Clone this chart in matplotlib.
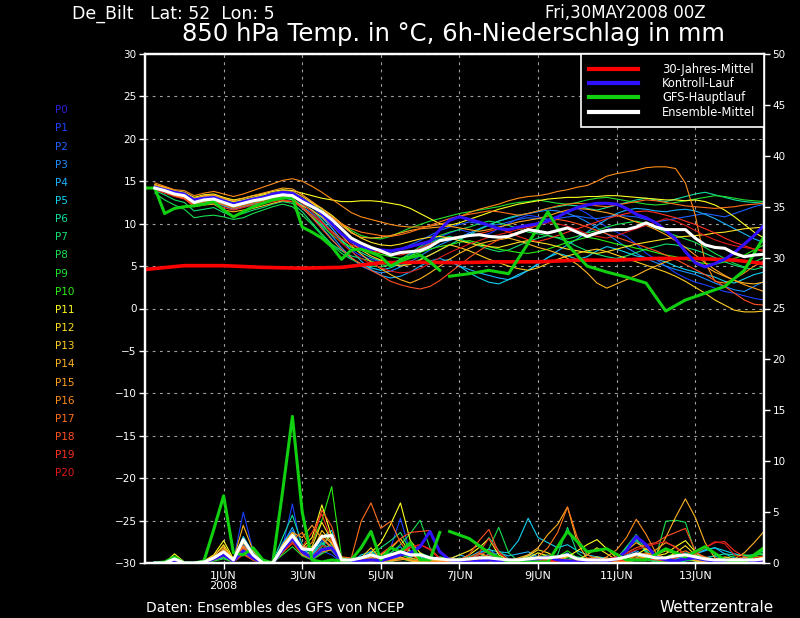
import matplotlib
matplotlib.use('Agg')
import matplotlib.pyplot as plt
from matplotlib.lines import Line2D

# ---- time axes (hours after 30MAY2008 00Z) ----
ens_hours = list(range(6, 379, 6))          # ensemble, 6h steps
gfs_hours_hi = list(range(0, 181, 6))       # GFS high-res temp
gfs_precip_hours_hi = list(range(6, 181, 6))
gfs_hours_lo = list(range(186, 379, 12))    # GFS low-res, 12h steps
clim_hours = [0, 24, 48, 72, 96, 120, 144, 168, 192, 216, 240, 264, 288, 312, 336, 360, 378]

x_ticks = [48, 96, 144, 192, 240, 288, 336]
x_labels = ['1JUN\n2008', '3JUN', '5JUN', '7JUN', '9JUN', '11JUN', '13JUN']
member_names = ['P%d' % k for k in range(21)]

# ---- 850 hPa temperature ----
clim_temp = [4.6, 5.05, 5.05, 4.85, 4.75, 4.85, 5.4, 5.45, 5.4, 5.5, 5.5, 5.7, 5.7, 5.9, 5.9, 5.7, 5.3]

mean_temp = [14.2, 13.9, 13.5, 13.3, 12.5, 12.8, 12.9, 12.5, 12.1, 12.4,
             12.7, 12.9, 13.2, 13.4, 13.3, 12.6, 12.0, 11.4, 10.5, 9.4,
             8.3, 7.7, 7.2, 6.8, 6.3, 6.6, 6.7, 6.8, 7.3, 8.0,
             8.2, 8.4, 8.6, 8.7, 8.5, 8.4, 8.5, 8.9, 9.3, 9.1,
             8.9, 9.2, 9.5, 9.0, 8.5, 8.9, 9.2, 9.3, 9.3, 9.6,
             10.1, 9.6, 9.3, 9.3, 9.3, 8.3, 7.5, 7.2, 7.1, 6.5,
             6.1, 6.3, 6.4]

ctrl_temp = [14.3, 14.0, 13.7, 13.5, 12.8, 13.0, 13.1, 12.7, 12.3, 12.6,
             12.9, 13.1, 13.5, 13.7, 13.6, 12.9, 12.1, 11.2, 10.0, 8.8,
             7.9, 7.3, 7.0, 6.9, 6.8, 7.0, 7.3, 7.6, 7.9, 9.3,
             10.4, 10.8, 10.5, 10.2, 9.8, 9.4, 9.3, 9.6, 9.8, 10.0,
             10.3, 10.8, 11.4, 11.9, 12.2, 12.4, 12.4, 12.3, 11.8, 11.1,
             10.7, 10.1, 9.2, 8.2, 6.7, 5.4, 4.9, 5.3, 5.8, 6.6,
             7.6, 8.6, 9.8]

gfs_temp_hi = [14.2, 14.2, 11.2, 11.8, 12.0, 12.1, 12.3, 12.6, 11.6, 10.8,
               11.4, 12.0, 12.4, 12.8, 13.0, 13.1, 9.6, 9.0, 8.3, 7.3,
               5.8, 6.9, 7.0, 6.6, 6.1, 5.0, 5.6, 6.0, 6.3, 5.5, 4.5]
gfs_temp_lo = [3.8, 4.1, 4.5, 4.1, 7.7, 11.4, 7.5, 5.0, 4.3, 3.7, 3.0, -0.3, 1.0, 1.8, 2.6, 4.5, 8.5]

ens_temp = [
    # P1
    [14.4, 14.0, 13.7, 13.6, 12.9, 13.1, 13.2, 12.8, 12.5, 12.8,
     13.0, 13.2, 13.5, 13.7, 13.5, 12.9, 12.2, 11.0, 9.5, 8.0,
     6.9, 6.2, 5.8, 5.5, 5.3, 5.8, 6.4, 7.1, 7.8, 8.4,
     8.9, 9.3, 9.0, 8.6, 8.8, 9.4, 10.0, 10.6, 11.0, 10.8,
     10.5, 10.9, 11.4, 11.8, 11.2, 10.4, 9.6, 9.0, 8.5, 7.6,
     6.5, 5.8, 5.0, 4.2, 3.6, 3.1, 2.8, 2.4, 2.0, 1.8,
     1.5, 1.2, 1.0],
    # P2
    [14.3, 14.1, 13.6, 13.4, 12.7, 13.0, 13.1, 12.6, 12.2, 12.6,
     12.9, 13.1, 13.4, 13.6, 13.5, 12.7, 11.9, 11.0, 10.0, 8.8,
     7.8, 7.3, 7.0, 6.8, 6.6, 7.0, 7.5, 8.0, 8.6, 9.2,
     9.6, 9.9, 10.2, 10.0, 9.8, 9.9, 10.2, 10.5, 10.7, 10.6,
     10.5, 10.6, 10.8, 10.9, 10.7, 10.6, 10.8, 11.0, 10.9, 10.8,
     10.5, 10.2, 10.4, 10.6, 10.8, 11.0, 11.2, 11.0, 10.8, 11.2,
     11.6, 12.0, 12.3],
    # P3
    [14.1, 13.8, 13.4, 13.2, 12.4, 12.6, 12.8, 12.3, 11.9, 12.2,
     12.5, 12.8, 13.1, 13.2, 13.0, 12.0, 11.2, 10.0, 8.6, 7.2,
     6.0, 5.0, 4.5, 4.2, 4.4, 4.9, 5.5, 6.2, 6.9, 7.5,
     8.0, 8.4, 8.9, 9.4, 9.9, 10.3, 10.6, 10.9, 11.2, 11.4,
     11.6, 11.5, 11.2, 10.8, 10.2, 9.5, 8.8, 8.0, 7.2, 6.5,
     5.9, 5.4, 5.0, 4.6, 4.3, 4.0, 3.5, 3.0, 2.6, 2.2,
     2.0, 2.6, 3.2],
    # P4
    [14.0, 13.7, 13.3, 13.0, 12.2, 12.5, 12.6, 12.1, 11.7, 12.0,
     12.3, 12.5, 12.8, 13.0, 12.9, 12.2, 11.5, 10.7, 9.5, 8.1,
     6.8, 5.6, 4.6, 3.9, 3.6, 3.8, 4.3, 5.0, 5.6, 5.9,
     5.5, 5.0, 4.6, 4.2, 3.9, 3.6, 3.4, 3.8, 4.5, 5.3,
     6.0, 6.8, 7.5, 8.2, 9.0, 9.8, 10.5, 11.2, 11.6, 11.8,
     11.7, 11.5, 11.4, 11.6, 11.7, 11.5, 11.1, 10.6, 10.0, 9.4,
     8.8, 8.2, 7.8],
    # P5
    [14.2, 13.9, 13.5, 13.3, 12.6, 12.9, 13.0, 12.5, 12.0, 12.3,
     12.6, 12.8, 13.0, 13.1, 12.8, 11.8, 10.8, 9.6, 8.2, 6.9,
     5.9, 5.2, 4.8, 4.5, 4.8, 5.3, 5.6, 5.4, 5.2, 5.5,
     5.8, 5.0, 4.2, 3.6, 3.1, 2.9, 3.4, 4.0, 4.5, 5.2,
     6.0, 6.5, 6.2, 5.8, 6.1, 6.8, 7.3, 7.0, 6.6, 6.2,
     6.0, 5.8, 5.5, 5.0, 4.6, 4.3, 4.0, 3.7, 3.2, 3.0,
     3.5, 4.0, 4.3],
    # P6
    [14.3, 14.0, 13.6, 13.4, 12.8, 13.0, 13.1, 12.6, 12.3, 12.5,
     12.8, 13.0, 13.3, 13.5, 13.3, 12.4, 11.6, 10.4, 9.1, 8.0,
     7.2, 6.6, 6.0, 5.6, 5.3, 5.1, 5.3, 5.8, 6.3, 6.9,
     7.5, 8.1, 8.7, 9.3, 9.8, 10.3, 10.7, 11.0, 11.2, 11.5,
     11.8, 12.0, 12.2, 12.1, 11.8, 11.6, 11.9, 12.2, 12.5, 12.8,
     13.0, 12.8, 12.6, 12.9, 13.2, 13.5, 13.7, 13.4, 13.1, 12.8,
     12.6, 12.5, 12.4],
    # P7
    [13.9, 13.4, 12.8, 12.5, 11.5, 11.7, 11.9, 11.3, 10.9, 11.2,
     11.6, 11.9, 12.3, 12.6, 12.4, 11.4, 10.1, 8.8, 7.6, 6.8,
     6.2, 5.9, 5.6, 5.2, 5.0, 5.4, 6.2, 7.0, 7.7, 8.2,
     8.5, 8.2, 7.8, 7.4, 7.0, 6.7, 6.9, 7.4, 7.9, 8.3,
     8.6, 8.3, 7.9, 7.3, 6.8, 6.4, 6.1, 5.9, 6.2, 6.6,
     7.0, 7.3, 7.6, 7.5, 7.2, 6.9, 6.5, 6.0, 5.5, 5.1,
     4.8, 4.6, 4.9],
    # P8
    [13.6, 12.8, 12.2, 11.7, 10.7, 10.9, 11.0, 10.8, 10.5, 10.7,
     11.2, 11.6, 12.0, 12.3, 12.0, 11.0, 9.9, 8.6, 7.5, 6.5,
     5.8, 5.3, 5.0, 4.9, 5.2, 5.8, 6.5, 7.3, 8.0, 8.6,
     9.0, 9.3, 9.6, 10.0, 10.3, 10.1, 9.8, 9.4, 9.0, 8.8,
     8.6, 8.4, 8.2, 8.5, 8.9, 9.2, 9.6, 9.9, 10.1, 10.3,
     10.0, 9.5, 9.0, 8.6, 8.2, 7.8, 7.2, 6.5, 5.9, 5.3,
     4.9, 5.5, 6.0],
    # P9
    [14.3, 14.0, 13.7, 13.5, 12.8, 13.2, 13.3, 12.9, 12.6, 12.8,
     13.1, 13.3, 13.6, 13.7, 13.6, 13.0, 12.4, 11.7, 10.9, 10.0,
     9.2, 8.6, 8.3, 8.2, 8.5, 9.0, 9.5, 9.9, 10.3, 10.6,
     10.9, 11.2, 11.4, 11.6, 11.8, 12.0, 12.3, 12.5, 12.6, 12.8,
     12.6, 12.4, 12.3, 12.5, 12.8, 13.0, 13.1, 12.9, 12.7, 12.5,
     12.3, 12.2, 12.3, 12.5, 12.7, 12.9, 13.1, 13.3, 13.2, 13.0,
     12.8, 12.7, 12.6],
    # P10
    [14.2, 13.8, 13.4, 13.2, 12.3, 12.6, 12.7, 12.2, 11.9, 12.1,
     12.4, 12.7, 13.0, 13.2, 13.0, 12.0, 10.9, 9.8, 8.7, 7.8,
     7.2, 6.9, 6.7, 6.4, 6.1, 5.9, 6.2, 6.6, 7.0, 7.3,
     7.5, 7.8, 8.0, 7.7, 7.3, 7.0, 6.8, 6.6, 6.5, 6.7,
     7.0, 7.4, 7.8, 8.1, 8.4, 8.2, 7.9, 7.6, 7.4, 7.1,
     6.9, 6.6, 6.3, 6.1, 5.8, 5.5, 5.3, 5.2, 5.5, 5.9,
     6.3, 6.9, 7.5],
    # P11
    [14.6, 14.3, 13.9, 13.7, 13.1, 13.4, 13.5, 13.1, 12.8, 13.0,
     13.3, 13.5, 13.8, 14.0, 13.9, 13.6, 13.3, 13.0, 12.8, 12.6,
     12.6, 12.7, 12.7, 12.6, 12.4, 12.2, 11.8, 11.2, 10.6, 10.0,
     9.8, 10.1, 10.5, 10.9, 11.3, 11.7, 12.0, 12.3, 12.5, 12.7,
     12.9, 13.0, 13.1, 13.1, 13.2, 13.2, 13.3, 13.3, 13.2, 13.1,
     13.0, 12.9, 12.8, 12.8, 12.7, 12.8, 12.6, 12.2, 11.6, 10.8,
     9.9, 9.0, 8.3],
    # P12
    [14.4, 14.1, 13.7, 13.5, 12.8, 13.1, 13.2, 12.7, 12.3, 12.6,
     12.9, 13.1, 13.4, 13.6, 13.5, 12.9, 12.4, 11.8, 11.0, 10.0,
     9.0, 8.3, 7.8, 7.5, 7.4, 7.6, 7.9, 8.2, 8.4, 8.5,
     8.3, 8.0, 7.7, 7.5, 7.3, 7.2, 7.5, 7.8, 8.0, 7.8,
     7.6, 7.3, 7.0, 6.8, 6.6, 6.5, 6.7, 7.0, 7.3, 7.6,
     7.8, 8.0, 8.2, 8.4, 8.5, 8.6, 8.7, 8.9, 9.0, 9.2,
     9.4, 9.5, 9.6],
    # P13
    [14.5, 14.2, 13.8, 13.6, 13.0, 13.2, 13.3, 12.9, 12.6, 12.8,
     13.1, 13.4, 13.6, 13.9, 13.8, 13.2, 12.5, 11.3, 10.0, 8.8,
     7.8, 6.9, 6.2, 5.7, 5.3, 5.0, 5.2, 5.7, 6.3, 6.9,
     7.5, 7.2, 6.8, 6.3, 5.8, 5.4, 5.0, 4.7, 4.5, 4.8,
     5.3, 5.8, 6.2, 6.5, 6.8, 7.0, 6.7, 6.3, 5.9, 5.5,
     5.1, 4.7, 4.3, 3.8, 3.2, 2.5, 1.8, 1.0, 0.4, -0.2,
     -0.4, -0.4, -0.3],
    # P14
    [14.3, 13.9, 13.3, 13.0, 12.0, 12.2, 12.3, 11.6, 11.4, 11.6,
     11.8, 12.1, 12.4, 12.7, 12.6, 12.1, 11.6, 10.8, 9.8, 8.6,
     7.4, 6.4, 5.5, 4.7, 4.0, 3.4, 3.0, 3.5, 4.2, 5.0,
     5.8, 6.5, 7.1, 7.6, 7.9, 8.1, 8.3, 8.0, 7.6, 7.2,
     6.9, 6.5, 5.9, 5.2, 4.2, 3.0, 2.4, 2.9, 3.4, 3.9,
     4.5, 5.0, 5.5, 5.9, 6.0, 5.6, 5.0, 4.3, 3.8, 3.3,
     3.0, 2.9, 3.1],
    # P15
    [14.6, 14.2, 13.8, 13.6, 12.9, 13.3, 13.4, 13.0, 12.7, 13.0,
     13.3, 13.6, 13.9, 14.2, 14.1, 13.4, 12.6, 11.8, 10.8, 9.8,
     8.9, 8.4, 8.3, 8.4, 8.6, 8.9, 9.2, 9.4, 9.5, 9.6,
     9.7, 9.5, 9.3, 9.1, 9.3, 9.6, 9.9, 10.2, 10.4, 10.6,
     10.9, 11.3, 11.6, 11.8, 11.7, 11.5, 11.3, 11.0, 10.6, 10.2,
     9.8, 9.3, 8.7, 8.0, 7.2, 6.3, 5.4, 4.6, 3.9, 3.3,
     2.8, 2.4, 2.0],
    # P16
    [14.8, 14.4, 14.0, 13.9, 13.3, 13.6, 13.8, 13.5, 13.2, 13.5,
     13.9, 14.3, 14.7, 15.1, 15.3, 15.0, 14.4, 13.7, 12.9, 12.1,
     11.3, 10.8, 10.5, 10.2, 9.9, 9.7, 9.6, 9.6, 9.7, 9.9,
     10.3, 10.8, 11.3, 11.7, 12.0, 12.3, 12.7, 13.0, 13.2, 13.3,
     13.5, 13.8, 14.0, 14.3, 14.5, 15.0, 15.6, 15.9, 16.1, 16.3,
     16.6, 16.7, 16.7, 16.5, 14.8, 11.0, 5.5, 3.2, 3.0, 3.5,
     4.2, 5.0, 5.6],
    # P17
    [14.2, 13.9, 13.5, 13.2, 12.4, 12.7, 12.8, 12.4, 12.0, 12.3,
     12.6, 12.8, 13.1, 13.3, 13.2, 12.6, 12.1, 11.5, 10.8, 10.0,
     9.4, 9.0, 8.8, 8.6, 8.5, 8.7, 9.0, 9.4, 9.8, 10.2,
     10.6, 10.9, 11.1, 11.3, 11.5, 11.4, 11.2, 11.0, 11.2, 11.5,
     11.8, 12.1, 12.3, 12.4, 12.3, 12.1, 12.0, 12.2, 12.4, 12.6,
     12.8, 12.7, 12.5, 12.3, 12.1, 12.0, 11.9, 11.8, 11.9, 12.0,
     12.2, 12.3, 12.4],
    # P18
    [14.1, 13.8, 13.4, 13.1, 12.2, 12.5, 12.6, 12.2, 11.8, 12.1,
     12.4, 12.6, 12.9, 13.1, 12.9, 11.9, 10.7, 9.4, 8.1, 7.0,
     6.0, 5.2, 4.5, 3.9, 3.2, 2.8, 2.5, 2.3, 2.6, 3.3,
     4.2, 5.1, 6.0, 6.8, 7.5, 8.1, 8.6, 9.0, 9.4, 9.8,
     10.2, 10.5, 10.3, 10.0, 9.6, 9.2, 8.8, 8.4, 8.0, 7.6,
     7.2, 6.8, 6.3, 5.8, 5.2, 4.6, 4.0, 3.3, 2.6, 1.8,
     1.0, 0.5, 0.4],
    # P19
    [14.0, 13.6, 13.2, 12.9, 12.1, 12.3, 12.4, 11.9, 11.6, 11.9,
     12.2, 12.4, 12.6, 12.8, 12.6, 11.9, 11.0, 10.1, 9.1, 8.2,
     7.5, 7.0, 6.8, 6.6, 6.4, 6.3, 6.6, 7.1, 7.6, 8.0,
     8.3, 8.5, 8.6, 8.8, 9.1, 9.4, 9.0, 8.5, 8.1, 7.9,
     8.2, 8.6, 9.0, 9.4, 9.8, 10.2, 10.6, 10.9, 11.2, 11.4,
     11.5, 11.3, 11.0, 10.7, 10.3, 9.9, 9.4, 8.9, 8.3, 7.8,
     7.4, 7.0, 6.7],
    # P20
    [14.3, 13.9, 13.5, 13.3, 12.5, 12.8, 12.9, 12.4, 12.1, 12.4,
     12.7, 12.9, 13.2, 13.4, 13.2, 12.4, 11.4, 10.2, 8.9, 7.7,
     6.7, 5.9, 5.3, 4.8, 4.4, 4.2, 4.3, 4.7, 5.3, 6.0,
     6.6, 7.1, 7.6, 8.0, 8.4, 8.7, 9.0, 9.3, 9.6, 9.9,
     10.1, 10.0, 9.7, 9.3, 8.8, 8.5, 8.3, 8.6, 9.0, 9.4,
     9.8, 10.2, 10.6, 10.3, 9.8, 9.2, 8.6, 8.1, 7.7, 7.4,
     7.2, 7.0, 6.9],
]

# ---- 6h precipitation (mm) ----
mean_precip = [0, 0, 0.4, 0, 0, 0.1, 0.5, 1.1, 0.3, 2.3,
               0.8, 0, 0, 1.5, 2.7, 1.4, 1.3, 2.6, 2.7, 0.3,
               0.3, 0.5, 0.8, 0.5, 0.8, 1.1, 0.8, 0.8, 0.5, 0.4,
               0.3, 0.3, 0.4, 0.5, 0.5, 0.4, 0.3, 0.3, 0.4, 0.5,
               0.5, 0.6, 0.8, 0.4, 0.3, 0.3, 0.3, 0.4, 0.6, 0.9,
               0.7, 0.5, 0.5, 0.7, 0.8, 0.6, 0.4, 0.3, 0.3, 0.3,
               0.3, 0.3, 0.4]

ctrl_precip = [0, 0, 0.1, 0, 0, 0.1, 0.4, 0.8, 0.2, 1.2,
               0.5, 0, 0, 1.3, 2.4, 1.1, 0.5, 1.3, 1.5, 0.2,
               0.1, 0.2, 0.3, 0.2, 0.5, 0.8, 1.0, 1.6, 3.1, 1.1,
               0.3, 0.2, 0.1, 0.2, 0.3, 0.2, 0.1, 0.2, 0.3, 0.4,
               0.6, 0.3, 0.2, 0.1, 0.2, 0.3, 0.2, 0.4, 1.2, 2.6,
               1.8, 0.6, 0.3, 0.2, 0.4, 0.5, 0.3, 0.2, 0.1, 0.2,
               0.3, 0.2, 0.3]

gfs_precip_hi = [0, 0.1, 0.6, 0, 0, 0.2, 3.3, 6.6, 1.0, 0.8,
                 1.5, 0.3, 0, 7.0, 14.4, 5.0, 0.3, 0.1, 0.3, 0.2,
                 0.3, 1.5, 3.1, 0.3, 1.5, 1.1, 2.0, 0.3, 0.3, 3.0]
gfs_precip_lo = [3.1, 2.4, 1.0, 0.1, 0.1, 0.1, 3.1, 1.1, 1.4, 0.3, 0.3, 1.4, 0.6, 1.6, 0.3, 0.1, 1.5]

ens_precip = [
    # P1
    [0, 0, 0.1, 0, 0, 0, 0.4, 0.9, 0.2, 5.0,
     1.2, 0, 0, 1.5, 5.8, 1.0, 0.5, 1.2, 0.8, 0.1,
     0, 0.2, 0.3, 0.1, 1.5, 4.4, 1.0, 0.4, 0.2, 0.1,
     0, 0.1, 0.3, 0.6, 0.8, 0.2, 0, 0.2, 0.5, 0.3,
     0.1, 0, 0.2, 0.4, 0.1, 0, 0, 0.3, 0.6, 1.0,
     0.5, 0.1, 0, 0, 0.2, 0.3, 0.1, 0, 0, 0.2,
     0.4, 0.3, 0.2],
    # P2
    [0, 0, 0.2, 0, 0, 0.1, 0.3, 0.6, 0.1, 2.0,
     0.8, 0.1, 0, 2.0, 3.2, 1.5, 0.6, 2.2, 1.6, 0.2,
     0.1, 0.4, 1.2, 0.3, 0.5, 1.0, 0.6, 0.8, 0.4, 0.1,
     0, 0, 0.1, 0.4, 0.9, 0.5, 0.2, 0, 0.1, 0.3,
     0.6, 0.3, 0.1, 0, 0.1, 0.2, 0.1, 0.5, 1.2, 2.4,
     1.0, 0.2, 0.1, 0, 0, 0.1, 0.3, 0.1, 0, 0,
     0.1, 0.2, 0.4],
    # P3
    [0, 0, 0.1, 0, 0, 0, 0.6, 1.2, 0.2, 1.8,
     0.7, 0, 0.1, 1.5, 2.5, 0.9, 0.4, 1.0, 2.0, 0.3,
     0, 0.1, 0.2, 0.5, 1.0, 1.6, 0.5, 0.2, 0.3, 0.6,
     0.3, 0.1, 0.4, 0.9, 1.4, 0.6, 0.2, 0.3, 0.8, 0.5,
     0.2, 0.5, 1.0, 0.3, 0.1, 0, 0.2, 0.1, 0, 0.3,
     0.6, 0.2, 0.1, 0.4, 0.8, 0.3, 0.5, 0.7, 0.3, 0.1,
     0, 0.1, 0.3],
    # P4
    [0, 0, 0.3, 0, 0, 0.1, 0.5, 0.8, 0.1, 1.2,
     0.4, 0, 0, 1.8, 3.5, 1.2, 0.7, 1.8, 2.8, 0.4,
     0.2, 0.6, 0.8, 0.3, 0.2, 0.5, 0.3, 0.2, 0.1, 0.2,
     0.4, 0.8, 0.5, 0.3, 0.6, 1.0, 0.7, 0.9, 1.1, 0.6,
     0.4, 0.3, 0.2, 0.1, 0.3, 0.6, 0.5, 0.2, 0.8, 1.2,
     0.7, 0.3, 0.2, 0.4, 0.6, 0.9, 1.2, 1.5, 0.9, 0.5,
     0.3, 0.2, 0.1],
    # P5
    [0, 0, 0.1, 0, 0, 0, 0.3, 0.5, 0.1, 2.6,
     1.0, 0, 0, 1.2, 2.4, 1.4, 0.8, 2.5, 3.2, 0.3,
     0.1, 0.8, 1.1, 0.4, 0.3, 0.7, 1.8, 0.6, 0.2, 0.1,
     0.1, 0.2, 0.6, 1.1, 1.3, 1.1, 1.0, 2.2, 4.4, 2.5,
     2.0, 1.5, 1.8, 1.2, 0.8, 0.6, 0.4, 0.3, 1.5, 2.2,
     1.2, 0.4, 0.1, 0.2, 0.5, 0.9, 1.3, 1.5, 1.2, 0.9,
     0.7, 0.8, 0.9],
    # P6
    [0, 0, 0.2, 0, 0, 0.1, 0.4, 1.0, 0.2, 1.5,
     0.6, 0, 0.1, 2.5, 4.7, 1.8, 0.9, 2.0, 1.2, 0.1,
     0, 0.3, 0.6, 0.2, 0.4, 0.8, 0.5, 1.0, 0.6, 0.3,
     0.2, 0.5, 0.3, 1.0, 2.5, 1.2, 0.4, 0.2, 0.1, 0.3,
     0.5, 0.2, 0.3, 0.6, 0.4, 0.2, 0.1, 0.3, 0.5, 0.7,
     0.4, 0.2, 0.1, 0.6, 1.0, 0.8, 0.5, 0.7, 0.9, 0.8,
     0.7, 0.8, 0.9],
    # P7
    [0, 0, 0.1, 0, 0, 0, 0.3, 0.7, 0.2, 1.0,
     0.4, 0.1, 0, 1.5, 2.8, 1.1, 0.5, 1.6, 2.9, 0.5,
     0.2, 0.4, 0.8, 1.5, 2.2, 3.0, 1.2, 0.5, 0.3, 0.2,
     0.1, 0.3, 0.6, 0.9, 0.5, 0.3, 0.2, 0.4, 0.6, 0.4,
     0.3, 0.8, 3.5, 1.0, 0.3, 0.1, 0, 0.4, 1.6, 2.8,
     1.2, 0.3, 0.1, 0, 0.2, 0.6, 0.3, 0.1, 0, 0.2,
     0.5, 0.8, 1.2],
    # P8
    [0, 0, 0.2, 0, 0, 0.1, 0.5, 0.9, 0.3, 1.4,
     0.5, 0, 0, 1.3, 2.2, 1.0, 0.6, 1.4, 1.8, 0.3,
     0.1, 0.2, 0.4, 0.6, 1.0, 1.8, 2.9, 4.2, 1.5, 0.4,
     0.2, 0.1, 0.3, 0.5, 1.4, 3.5, 1.0, 0.2, 0.1, 0.1,
     0.2, 0.3, 0.5, 0.4, 0.2, 0.1, 0.2, 0.5, 1.4, 2.4,
     1.0, 0.6, 4.1, 4.2, 4.0, 1.0, 0.3, 0.2, 0.1, 0.3,
     0.6, 0.8, 0.9],
    # P9
    [0, 0, 0.1, 0, 0, 0, 0.2, 0.4, 0.1, 0.9,
     0.3, 0, 0, 0.8, 1.6, 0.7, 0.3, 0.9, 1.4, 0.2,
     0, 0.1, 0.3, 0.2, 0.1, 0.4, 0.2, 0.1, 0.3, 0.6,
     0.4, 0.2, 0.1, 0.3, 0.5, 0.3, 0.1, 0.2, 0.4, 0.6,
     0.8, 0.5, 0.3, 0.2, 0.1, 0.3, 0.2, 0.1, 0.3, 0.5,
     0.3, 0.1, 0.2, 0.4, 0.3, 0.2, 0.1, 0.3, 0.5, 0.7,
     0.8, 0.7, 1.0],
    # P10
    [0, 0, 0.2, 0, 0, 0.1, 0.3, 0.6, 0.1, 1.1,
     0.5, 0, 0.1, 1.4, 2.6, 1.3, 2.0, 4.2, 7.5, 0.6,
     0.2, 0.5, 0.3, 0.1, 0.6, 0.9, 0.4, 0.3, 0.2, 0.1,
     0, 0.1, 0.2, 0.4, 0.3, 0.1, 0.2, 0.3, 0.2, 0.1,
     0.3, 0.6, 1.2, 0.5, 0.2, 0.1, 0.3, 0.2, 0.5, 0.8,
     0.5, 0.3, 0.6, 1.0, 0.7, 0.4, 0.2, 0.1, 0.2, 0.4,
     0.5, 0.6, 0.7],
    # P11
    [0, 0, 0.9, 0.1, 0, 0.2, 0.8, 2.2, 0.4, 1.6,
     0.5, 0, 0, 1.8, 3.0, 1.5, 2.5, 5.7, 2.6, 0.3,
     0.1, 0.4, 1.0, 2.0, 3.8, 5.9, 2.2, 1.0, 0.4, 0.2,
     0.1, 0.3, 0.8, 1.5, 2.4, 0.8, 0.3, 0.2, 0.5, 1.0,
     0.7, 0.4, 0.6, 1.2, 1.8, 2.3, 1.4, 0.5, 0.2, 0.8,
     1.4, 0.7, 0.9, 1.6, 2.2, 1.1, 0.4, 0.2, 0.1, 0.3,
     0.5, 0.4, 0.6],
    # P12
    [0, 0, 0.5, 0, 0, 0.1, 0.6, 1.8, 0.3, 1.3,
     0.6, 0, 0, 1.6, 2.8, 1.2, 1.6, 4.0, 2.2, 0.2,
     0, 0.2, 0.5, 0.8, 1.4, 2.4, 1.0, 0.3, 0.1, 0.2,
     0.4, 0.8, 1.2, 1.8, 1.0, 0.4, 0.1, 0.3, 0.7, 1.3,
     1.0, 0.5, 0.2, 0.3, 0.8, 1.5, 0.9, 0.3, 0.2, 0.5,
     0.9, 0.6, 0.4, 1.0, 1.7, 0.8, 0.2, 0.1, 0.2, 0.3,
     0.2, 0.1, 0.2],
    # P13
    [0, 0, 0.3, 0, 0, 0, 0.4, 1.4, 0.2, 2.0,
     0.8, 0.1, 0, 1.4, 2.2, 0.9, 1.0, 3.2, 2.0, 0.2,
     0.1, 0.5, 1.5, 0.4, 0.2, 0.6, 0.3, 0.1, 0.2, 0.5,
     0.3, 0.2, 0.5, 1.0, 0.6, 0.3, 0.2, 0.1, 0.1, 0.2,
     0.4, 0.3, 0.2, 0.1, 0.4, 0.6, 0.3, 0.1, 0.2, 0.4,
     0.6, 0.8, 1.2, 0.9, 0.5, 0.2, 0.1, 0.3, 0.6, 0.4,
     0.2, 0.3, 0.5],
    # P14
    [0, 0, 0.2, 0, 0, 0.1, 0.7, 1.6, 0.3, 3.7,
     1.2, 0.1, 0, 1.2, 2.4, 1.6, 1.3, 2.8, 1.9, 0.3,
     0.2, 0.3, 0.2, 0.1, 0.3, 0.5, 0.2, 0.1, 0.1, 0.3,
     0.5, 0.3, 0.2, 0.4, 0.2, 0.1, 0.2, 0.5, 0.8, 1.5,
     2.8, 3.8, 5.5, 2.0, 0.4, 0.1, 0.2, 0.6, 1.2, 2.0,
     1.4, 0.8, 2.5, 4.5, 6.3, 4.5, 2.0, 0.5, 0.2, 0.4,
     1.0, 2.0, 3.1],
    # P15
    [0, 0, 0.1, 0, 0, 0, 0.5, 1.1, 0.2, 1.4,
     0.5, 0, 0.1, 1.7, 3.0, 2.5, 3.7, 2.4, 1.5, 0.2,
     0.1, 0.3, 0.6, 0.4, 0.2, 0.3, 0.5, 0.3, 0.1, 0.1,
     0.2, 0.1, 0.3, 0.5, 0.4, 0.2, 0.1, 0.2, 0.3, 0.2,
     0.4, 0.6, 0.3, 0.2, 0.1, 0.3, 0.5, 0.2, 0.1, 0.3,
     0.7, 1.3, 2.0, 1.6, 0.8, 0.3, 0.1, 0.2, 0.3, 0.2,
     0.1, 0.3, 0.4],
    # P16
    [0, 0, 0.2, 0, 0, 0.1, 0.4, 0.8, 0.1, 1.0,
     0.3, 0, 0, 1.0, 2.0, 0.8, 0.4, 1.1, 1.3, 0.1,
     0, 0.1, 0.2, 0.1, 0.3, 0.5, 0.3, 0.2, 0.4, 0.3,
     0.2, 0.1, 0.2, 0.3, 0.5, 0.4, 0.2, 0.1, 0.2, 0.3,
     0.2, 0.4, 0.7, 0.3, 0.1, 0.2, 0.6, 1.3, 2.5, 4.3,
     2.8, 1.0, 0.4, 0.2, 0.5, 1.0, 0.6, 0.3, 0.1, 0.1,
     0.2, 0.1, 0.2],
    # P17
    [0, 0, 0.1, 0, 0, 0.2, 0.5, 1.3, 0.3, 1.7,
     0.6, 0.1, 0, 1.5, 2.3, 3.0, 1.2, 2.6, 1.5, 0.6,
     0.5, 4.1, 5.9, 3.4, 4.1, 2.0, 0.8, 0.3, 0.2, 0.1,
     0.2, 0.4, 0.3, 0.6, 0.8, 0.5, 0.3, 0.2, 0.4, 0.6,
     1.5, 3.0, 5.5, 2.5, 0.8, 0.4, 0.2, 0.1, 0.3, 0.7,
     1.0, 0.6, 0.4, 0.8, 1.2, 0.7, 0.3, 0.1, 0.2, 0.3,
     0.4, 0.3, 0.2],
    # P18
    [0, 0, 0.2, 0, 0, 0.1, 0.5, 1.0, 0.2, 1.5,
     0.5, 0, 0, 1.6, 2.6, 1.4, 2.0, 5.2, 3.6, 0.4,
     0.1, 0.3, 0.4, 0.9, 1.6, 2.4, 3.0, 3.1, 3.2, 1.2,
     0.4, 0.3, 0.8, 2.2, 3.3, 1.0, 0.3, 0.2, 0.1, 0.2,
     0.3, 0.2, 0.1, 0.3, 0.5, 0.4, 0.3, 0.6, 1.0, 1.5,
     1.8, 2.0, 2.6, 3.0, 3.4, 1.2, 0.4, 0.2, 0.1, 0.2,
     0.3, 0.2, 0.1],
    # P19
    [0, 0, 0.1, 0, 0, 0, 0.3, 0.7, 0.1, 0.8,
     0.3, 0, 0, 1.1, 1.9, 1.6, 3.0, 4.8, 2.2, 0.3,
     0.1, 0.2, 0.3, 0.2, 0.5, 1.0, 1.5, 1.8, 1.3, 0.4,
     0.2, 0.1, 0.3, 0.8, 1.2, 0.5, 0.2, 0.1, 0.2, 0.3,
     0.2, 0.1, 0.3, 0.2, 0.1, 0.2, 0.4, 0.3, 0.2, 0.5,
     0.4, 0.3, 0.2, 0.5, 0.8, 1.0, 1.5, 2.0, 2.1, 1.2,
     0.6, 0.5, 0.7],
    # P20
    [0, 0, 0.1, 0, 0, 0.1, 0.4, 0.9, 0.1, 1.2,
     0.4, 0, 0, 1.2, 2.0, 1.0, 0.6, 1.7, 1.4, 0.2,
     0, 0.2, 0.3, 0.5, 0.6, 1.2, 1.6, 1.8, 1.4, 0.5,
     0.2, 0.3, 0.5, 1.0, 2.4, 1.1, 0.3, 0.2, 0.3, 0.4,
     0.3, 0.2, 0.1, 0.2, 0.3, 0.2, 0.4, 0.6, 0.9, 1.3,
     1.6, 1.9, 2.1, 1.5, 0.8, 0.9, 1.5, 2.1, 1.9, 0.8,
     0.4, 0.2, 0.3],
]

# colours P0..P20, blue -> green -> yellow -> red
label_colors = ['#2a20d8', '#1c40ff', '#1c60ff', '#1c8cff', '#1cb0ff', '#10d0f0',
                '#10e0a0', '#10e070', '#18e050', '#20e030', '#28f010',
                '#ffff20', '#ffe020', '#ffcc20', '#ffb420', '#ffa020',
                '#ff8c18', '#ff7018', '#ff5020', '#ff3020', '#e01818']
member_colors = label_colors[1:]

RED = '#ff0000'
BLUE = '#3010ff'
GREEN = '#10d010'
WHITE = '#ffffff'

fig = plt.figure(figsize=(8, 6.18), dpi=100, facecolor='black')
ax = fig.add_axes([145 / 800, 55 / 618, 619 / 800, 509 / 618])
ax.set_facecolor('black')
ax.set_xlim(0, 378)
ax.set_ylim(-30, 30)
ax2 = ax.twinx()
ax2.set_ylim(0, 50)

for a in (ax, ax2):
    for s in a.spines.values():
        s.set_color('white')
        s.set_linewidth(1.6)

ax.set_yticks(range(-30, 31, 5))
ax2.set_yticks(range(0, 51, 5))
ax.set_xticks(x_ticks)
ax.set_xticklabels(x_labels, linespacing=1.0)
ax.tick_params(axis='y', colors='white', labelsize=7.5, length=4, width=1, pad=2)
ax2.tick_params(axis='y', colors='white', labelsize=7.5, length=4, width=1, pad=2)
ax.tick_params(axis='x', colors='white', labelsize=8, length=4, width=1, pad=2)

ax.grid(True, color='#a0a0a0', linestyle=(0, (2.5, 4)), linewidth=0.8)
ax.set_axisbelow(True)

# temperature
for vals, col in zip(ens_temp, member_colors):
    ax.plot(ens_hours, vals, color=col, lw=0.8)
ax.plot(clim_hours, clim_temp, color=RED, lw=2.6)
ax.plot(ens_hours, ctrl_temp, color=BLUE, lw=2.2)
ax.plot(gfs_hours_hi, gfs_temp_hi, color=GREEN, lw=2.2)
ax.plot(gfs_hours_lo, gfs_temp_lo, color=GREEN, lw=2.2)
ax.plot(ens_hours, mean_temp, color=WHITE, lw=2.2)

# precipitation
for vals, col in zip(ens_precip, member_colors):
    ax2.plot(ens_hours, vals, color=col, lw=0.8)
ax2.plot(ens_hours, ctrl_precip, color=BLUE, lw=2.2)
ax2.plot(gfs_precip_hours_hi, gfs_precip_hi, color=GREEN, lw=2.2)
ax2.plot(gfs_hours_lo, gfs_precip_lo, color=GREEN, lw=2.2)
ax2.plot(ens_hours, mean_precip, color=WHITE, lw=2.2)

handles = [Line2D([], [], color=RED, lw=3),
           Line2D([], [], color=BLUE, lw=3),
           Line2D([], [], color=GREEN, lw=3),
           Line2D([], [], color=WHITE, lw=3)]
leg = ax2.legend(handles, ['30-Jahres-Mittel', 'Kontroll-Lauf', 'GFS-Hauptlauf', 'Ensemble-Mittel'],
                 loc='upper right', borderaxespad=0, fontsize=8.3, labelcolor='white',
                 facecolor='black', edgecolor='white', framealpha=1, fancybox=False,
                 handlelength=4.2, handletextpad=2.1, borderpad=0.75, labelspacing=0.12)
leg.get_frame().set_linewidth(1.2)

# titles
fig.text(72 / 800, 1 - 18.5 / 618, 'De_Bilt   Lat: 52  Lon: 5', color='white', fontsize=12.5, va='baseline')
fig.text(545 / 800, 1 - 18.5 / 618, 'Fri,30MAY2008 00Z', color='white', fontsize=12, va='baseline')
fig.text(453 / 800, 1 - 41.5 / 618, '850 hPa Temp. in °C, 6h-Niederschlag in mm', color='white',
         fontsize=17.5, ha='center', va='baseline')
fig.text(146 / 800, 1 - 612 / 618, 'Daten: Ensembles des GFS von NCEP', color='white', fontsize=10, va='baseline')
fig.text(774 / 800, 1 - 612 / 618, 'Wetterzentrale', color='white', fontsize=11, ha='right', va='baseline')

for k, name in enumerate(member_names):
    fig.text(55 / 800, 1 - (113.3 + 18.15 * k) / 618, name, color=label_colors[k], fontsize=7.5, va='baseline')

fig.savefig('out.png', dpi=100, facecolor='black')
